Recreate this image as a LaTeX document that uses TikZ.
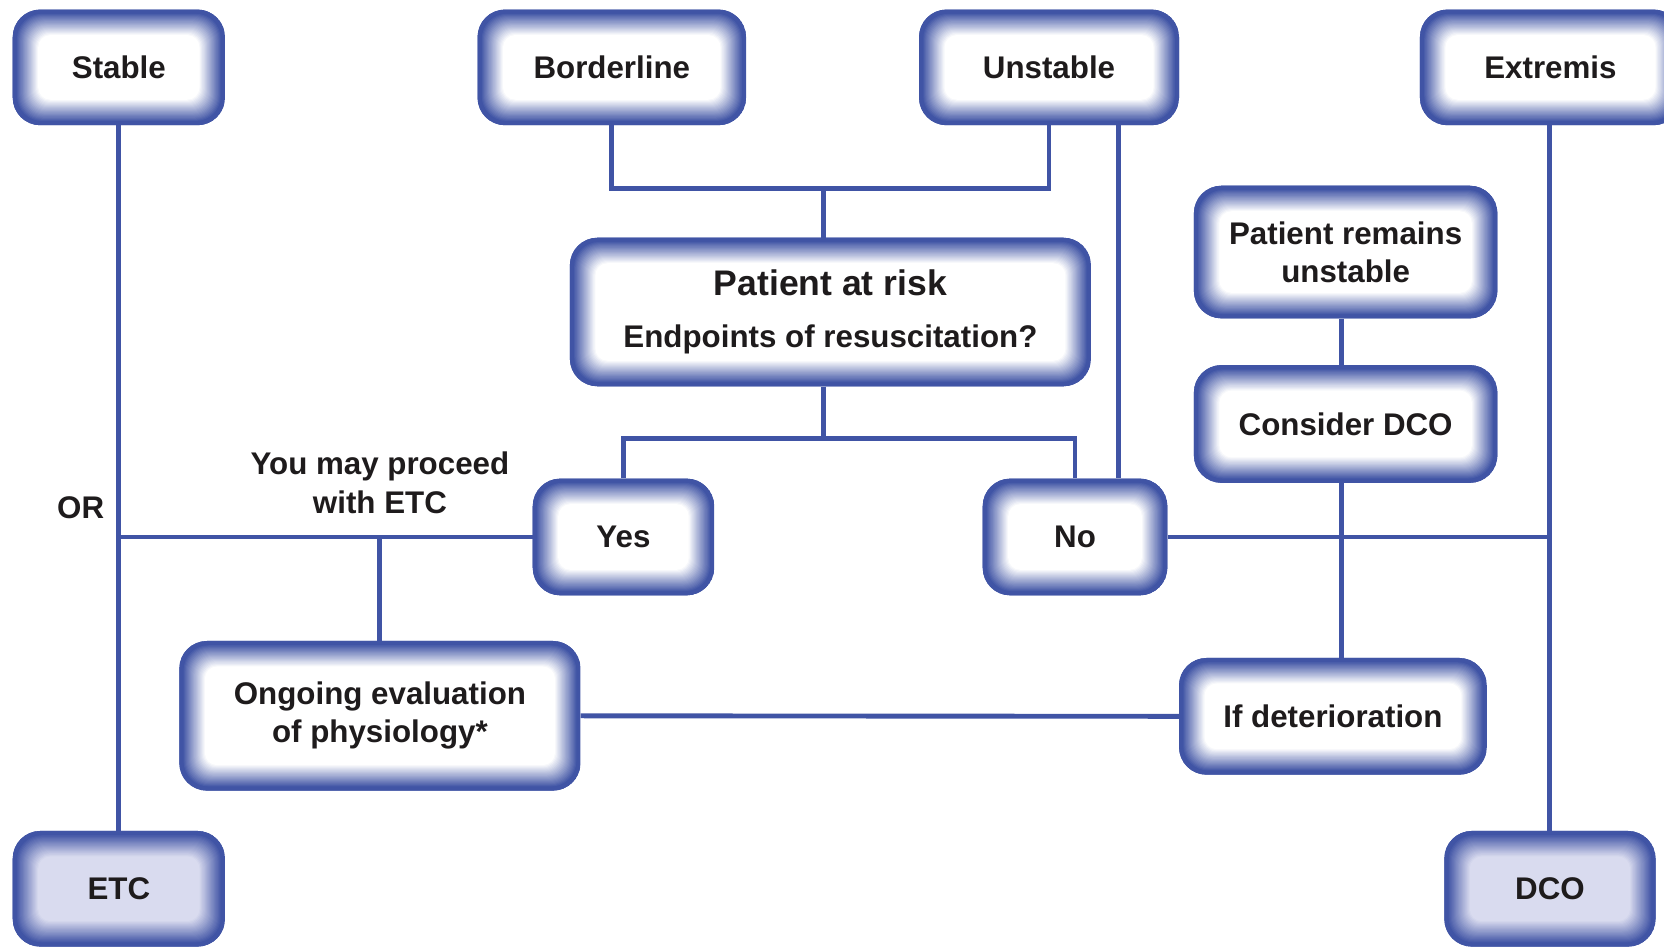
\documentclass[tikz,border=0pt]{standalone}
\usepackage{fontspec}
\setmainfont{Liberation Sans}
\usetikzlibrary{calc,backgrounds}
\definecolor{bblue}{RGB}{64,84,165}
\definecolor{etcfill}{RGB}{217,219,239}
\definecolor{txt}{RGB}{30,27,28}
\tikzset{
 gbox/.style={rounded corners=26pt, fill=bblue, draw=none, inner sep=0pt, align=center, text=txt,
   font=\bfseries\fontsize{29.5}{36}\selectfont,
   path picture={
     \foreach \i in {0,...,24}{
       \pgfmathtruncatemacro\p{\i<3 ? 100 : 100-(\i-3)*100/21}
       \pgfmathsetmacro\r{max(26-0.6*\i,10)}
       \pgfmathsetmacro\d{\i*1.0}
       \fill[bblue!\p!#1, rounded corners=\r pt] ($(path picture bounding box.south west)+(\d pt,\d pt)$) rectangle ($(path picture bounding box.north east)-(\d pt,\d pt)$);
     }
   }},
 gbox/.default=white,
 link/.style={draw=bblue, line width=4.6pt},
 lbl/.style={text=txt, font=\bfseries\fontsize{29.5}{36}\selectfont, align=center, inner sep=0pt}
}
\begin{document}
\begin{tikzpicture}[x=1pt,y=-1pt]
\useasboundingbox (0,0) rectangle (1568,894);
\node[gbox, minimum width=200pt, minimum height=109pt] (stable) at (112,63.5) {Stable};
\node[gbox, minimum width=253pt, minimum height=109pt] (border) at (576.5,63.5) {Borderline};
\node[gbox, minimum width=245pt, minimum height=109pt] (unst) at (988.5,63.5) {Unstable};
\node[gbox, minimum width=246pt, minimum height=109pt] (extr) at (1461,63.5) {Extremis};
\node[gbox, minimum width=491pt, minimum height=140pt] (risk) at (782.5,294) {{\fontsize{33.5}{40}\selectfont Patient at risk}\\[13pt]Endpoints of resuscitation?};
\node[gbox, minimum width=286pt, minimum height=125pt] (pru) at (1268,237.5) {Patient remains\\unstable};
\node[gbox, minimum width=286pt, minimum height=111pt] (cdco) at (1268,399.5) {Consider DCO};
\node[gbox, minimum width=171pt, minimum height=110pt] (yes) at (587.5,506) {Yes};
\node[gbox, minimum width=174pt, minimum height=110pt] (no) at (1013,506) {No};
\node[gbox, minimum width=378pt, minimum height=141pt] (ongo) at (358,674.5) {Ongoing evaluation\\of physiology*};
\node[gbox, minimum width=290pt, minimum height=110pt] (ifdet) at (1256,675) {If deterioration};
\node[gbox=etcfill, minimum width=200pt, minimum height=109pt] (etc) at (112,837.5) {ETC};
\node[gbox=etcfill, minimum width=199pt, minimum height=109pt] (dco) at (1460.5,837.5) {DCO};
\node[lbl] (or) at (76,478) {OR};
\node[lbl] (may) at (358,455) {You may proceed\\with ETC};
\coordinate (topbar) at (776,178);
\coordinate (midbar) at (776,413);
\coordinate (u2) at (1054,118);
\coordinate (rx) at (1264,300);
\begin{scope}[on background layer]
\draw[link] (border.south) -- (border.south |- topbar) -- (unst.south |- topbar) -- (unst.south);
\draw[link] (topbar) -- (topbar |- risk.north);
\draw[link] (topbar |- risk.south) -- (midbar);
\draw[link] (yes.north) |- (midbar);
\draw[link] (no.north) |- (midbar);
\draw[link] (u2) -- (u2 |- no.north);
\draw[link] (stable.south) -- (etc.north);
\draw[link] (yes.west) -- (yes.west -| stable.south);
\draw[link] (ongo.north) -- (ongo.north |- yes.west);
\draw[link] (no.east) -- (no.east -| dco.north);
\draw[link] (extr.south -| dco.north) -- (dco.north);
\draw[link] (rx |- pru.south) -- (rx |- cdco.north);
\draw[link] (rx |- cdco.south) -- (rx |- ifdet.north);
\draw[link] (ongo.east) -- (ifdet.west);
\end{scope}
\end{tikzpicture}
\end{document}
